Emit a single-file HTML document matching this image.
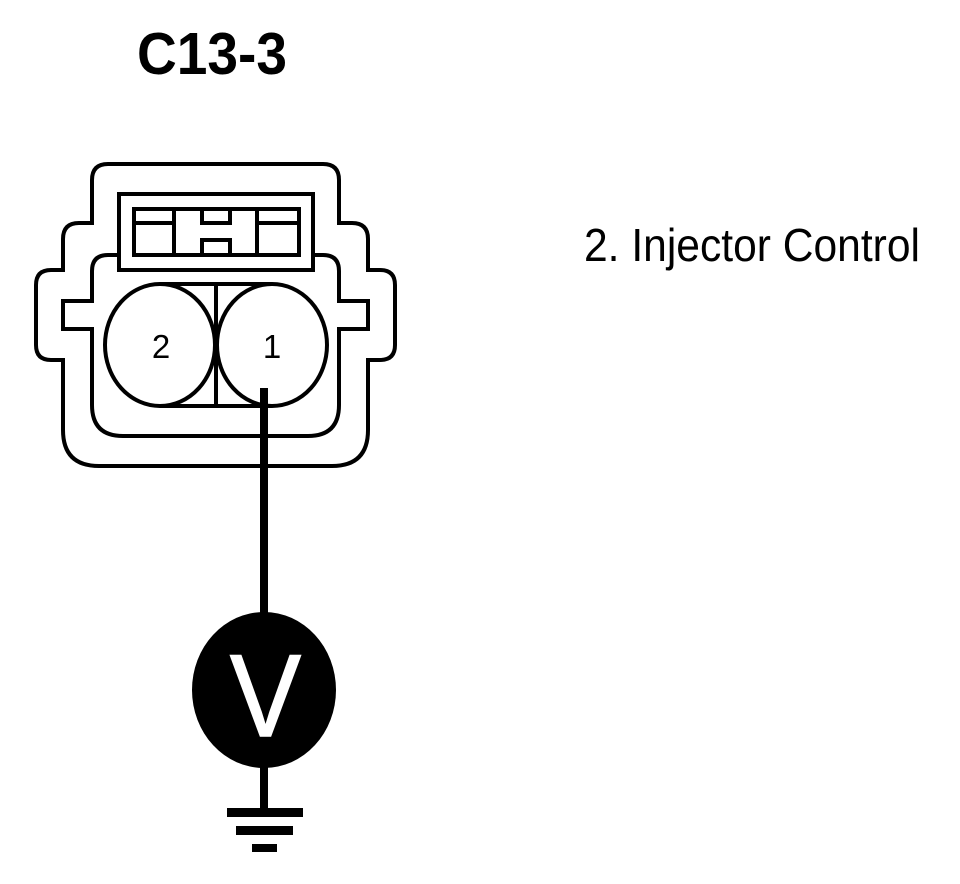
<!DOCTYPE html>
<html>
<head>
<meta charset="utf-8">
<style>
html,body{margin:0;padding:0;background:#fff;width:960px;height:884px;overflow:hidden}
svg{display:block}
text{font-family:"Liberation Sans",sans-serif;fill:#000}
</style>
</head>
<body>
<svg width="960" height="884" viewBox="0 0 960 884" xmlns="http://www.w3.org/2000/svg">
<rect width="960" height="884" fill="#fff"/>
<text x="137" y="74" font-size="59" font-weight="bold" textLength="150" lengthAdjust="spacingAndGlyphs">C13-3</text>
<text x="584" y="261" font-size="46" textLength="336" lengthAdjust="spacingAndGlyphs">2. Injector Control</text>

<g fill="none" stroke="#000" stroke-width="4">
<!-- outer housing -->
<path d="M108 164H323Q339 164 339 180V223H352Q368 223 368 239V270H380Q395 270 395 285V345Q395 360 380 360H368V430Q368 466 332 466H99Q63 466 63 430V360H51Q36 360 36 345V285Q36 270 51 270H63V239Q63 223 79 223H92V180Q92 164 108 164Z"/>
<!-- inner housing -->
<path d="M118 255H108Q92 255 92 271V301H63V329H92V405Q92 436 123 436H308Q339 436 339 405V329H368V301H339V271Q339 255 323 255H313"/>
<!-- latch -->
<rect x="119" y="194" width="194" height="76" fill="#fff"/>
<rect x="134" y="209" width="165" height="46"/>
<path d="M134 223H174M258 223H299M174 209V255M257 209V255M202 209V223H230V209M202 255V240H230V255"/>
<!-- cavities -->
<path d="M160 284H272M160 406H272M216 284V406"/>
<ellipse cx="160" cy="345" rx="55" ry="61" fill="#fff"/>
<ellipse cx="272" cy="345" rx="55" ry="61" fill="#fff"/>
<path d="M216 325V365" stroke-width="5"/>
</g>
<text x="161" y="358" font-size="33" text-anchor="middle">2</text>
<text x="272" y="358" font-size="33" text-anchor="middle">1</text>

<!-- wire -->
<rect x="260" y="388" width="8" height="226" fill="#000"/>
<ellipse cx="264" cy="690" rx="72" ry="78" fill="#000"/>
<text x="230" y="736" font-size="117" textLength="71" lengthAdjust="spacingAndGlyphs" style="fill:#fff;stroke:#fff;stroke-width:1.5">V</text>
<rect x="260" y="766" width="8" height="44" fill="#000"/>
<rect x="227" y="808" width="76" height="9" fill="#000"/>
<rect x="236" y="826" width="57" height="9" fill="#000"/>
<rect x="252" y="844" width="25" height="8" fill="#000"/>
</svg>
</body>
</html>
